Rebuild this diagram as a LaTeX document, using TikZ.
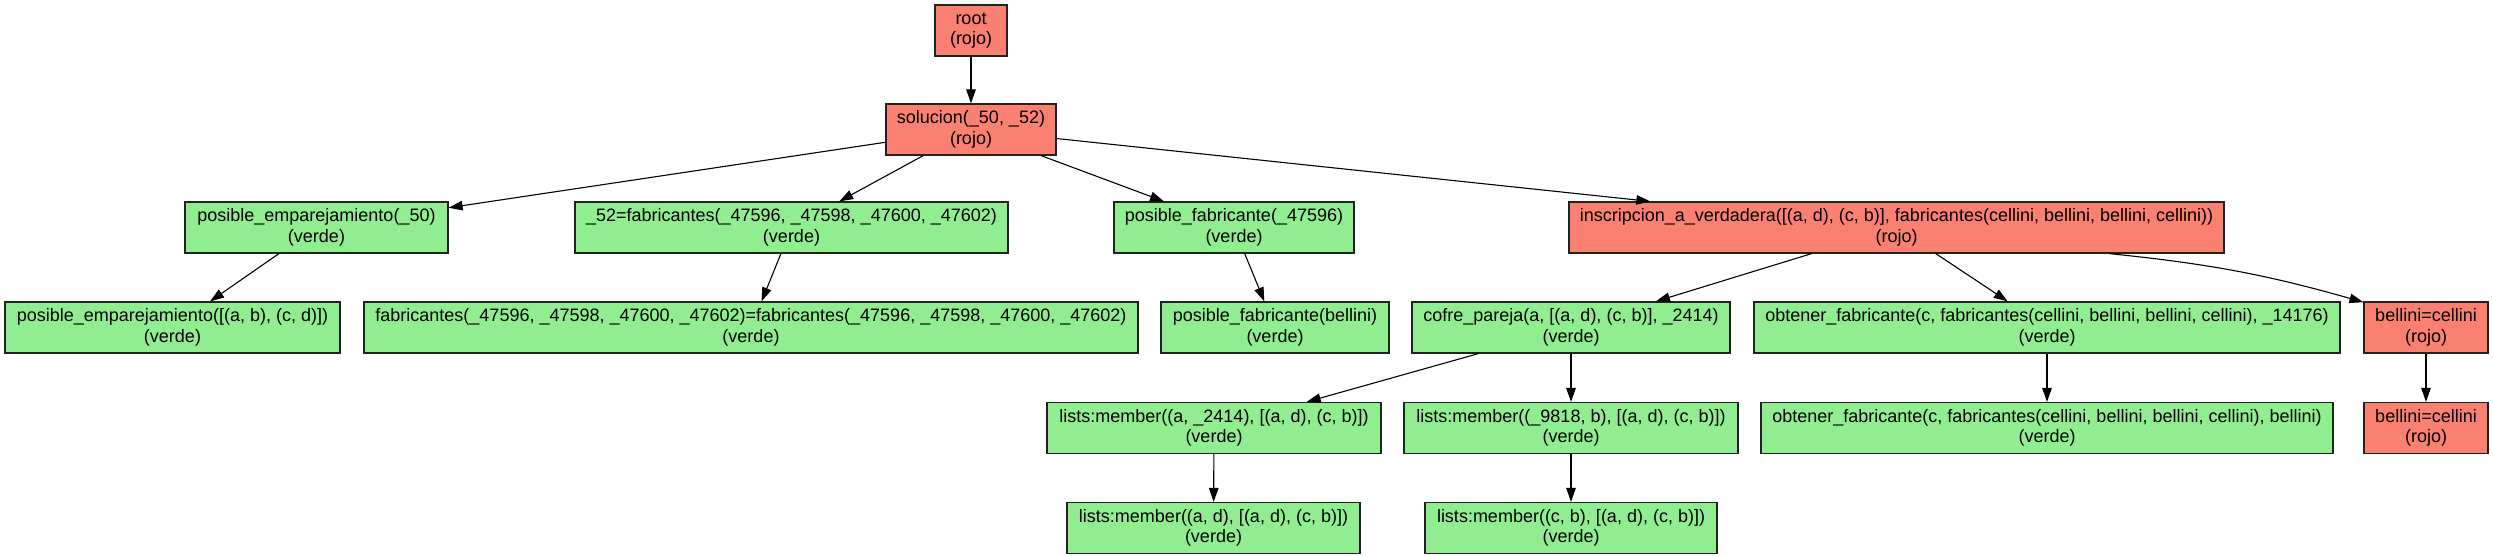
\documentclass[tikz,border=0pt]{standalone}
\usepackage{fontspec}
\setmainfont{Liberation Sans}
\usetikzlibrary{arrows.meta}
\definecolor{rojo}{HTML}{FA8072}
\definecolor{verde}{HTML}{90EE90}
\definecolor{borde}{HTML}{222222}
\begin{document}
\begin{tikzpicture}[x=1pt,y=1pt,
  box/.style={draw=borde, line width=1.2pt, minimum height=51pt, inner sep=0pt, align=center,
    font={\fontsize{18}{20.5}\selectfont}},
  rbox/.style={box, fill=rojo},
  gbox/.style={box, fill=verde},
  edge/.style={line width=1.1pt, -{Triangle[length=14pt,width=9.5pt]}}]
\useasboundingbox (0,0) rectangle (2493,-555);
\node[rbox, minimum width=72pt] (root) at (971,-30.5) {root\\(rojo)};
\node[rbox, minimum width=170pt] (sol) at (971,-129.5) {solucion(\_50, \_52)\\(rojo)};
\node[gbox, minimum width=263pt] (pe50) at (316.5,-227.5) {posible\_emparejamiento(\_50)\\(verde)};
\node[gbox, minimum width=433pt] (fab52) at (791.5,-227.5) {\_52=fabricantes(\_47596, \_47598, \_47600, \_47602)\\(verde)};
\node[gbox, minimum width=240pt] (pf) at (1234,-227.5) {posible\_fabricante(\_47596)\\(verde)};
\node[rbox, minimum width=655pt] (insc) at (1896.5,-227.5) {inscripcion\_a\_verdadera([(a, d), (c, b)], fabricantes(cellini, bellini, bellini, cellini))\\(rojo)};
\node[gbox, minimum width=335pt] (pe2) at (172.5,-327.5) {posible\_emparejamiento([(a, b), (c, d)])\\(verde)};
\node[gbox, minimum width=774pt] (fabeq) at (751,-327.5) {fabricantes(\_47596, \_47598, \_47600, \_47602)=fabricantes(\_47596, \_47598, \_47600, \_47602)\\(verde)};
\node[gbox, minimum width=228pt] (pfb) at (1275,-327.5) {posible\_fabricante(bellini)\\(verde)};
\node[gbox, minimum width=318pt] (cofre) at (1571,-327.5) {cofre\_pareja(a, [(a, d), (c, b)], \_2414)\\(verde)};
\node[gbox, minimum width=586pt] (obt1) at (2047,-327.5) {obtener\_fabricante(c, fabricantes(cellini, bellini, bellini, cellini), \_14176)\\(verde)};
\node[rbox, minimum width=124pt] (bc1) at (2426,-327.5) {bellini=cellini\\(rojo)};
\node[gbox, minimum width=334pt] (lm1) at (1214,-428) {lists:member((a, \_2414), [(a, d), (c, b)])\\(verde)};
\node[gbox, minimum width=334pt] (lm2) at (1571,-428) {lists:member((\_9818, b), [(a, d), (c, b)])\\(verde)};
\node[gbox, minimum width=572pt] (obt2) at (2047,-428) {obtener\_fabricante(c, fabricantes(cellini, bellini, bellini, cellini), bellini)\\(verde)};
\node[rbox, minimum width=124pt] (bc2) at (2426,-428) {bellini=cellini\\(rojo)};
\node[gbox, minimum width=293pt] (lm3) at (1213.5,-528) {lists:member((a, d), [(a, d), (c, b)])\\(verde)};
\node[gbox, minimum width=292pt] (lm4) at (1571,-528) {lists:member((c, b), [(a, d), (c, b)])\\(verde)};
\draw[edge] (root) -- (sol);
\draw[edge] (sol) -- (pe50);
\draw[edge] (sol) -- (fab52);
\draw[edge] (sol) -- (pf);
\draw[edge] (sol) -- (insc);
\draw[edge] (pe50) -- (pe2);
\draw[edge] (fab52) -- (fabeq);
\draw[edge] (pf) -- (pfb);
\draw[edge] (insc) -- (cofre);
\draw[edge] (insc) -- (obt1);
\draw[edge] (insc.-7.3) to[bend left=5] (bc1.158.4);
\draw[edge] (cofre) -- (lm1);
\draw[edge] (cofre) -- (lm2);
\draw[edge] (obt1) -- (obt2);
\draw[edge] (bc1) -- (bc2);
\draw[edge] (lm1) -- (lm3);
\draw[edge] (lm2) -- (lm4);
\end{tikzpicture}
\end{document}
